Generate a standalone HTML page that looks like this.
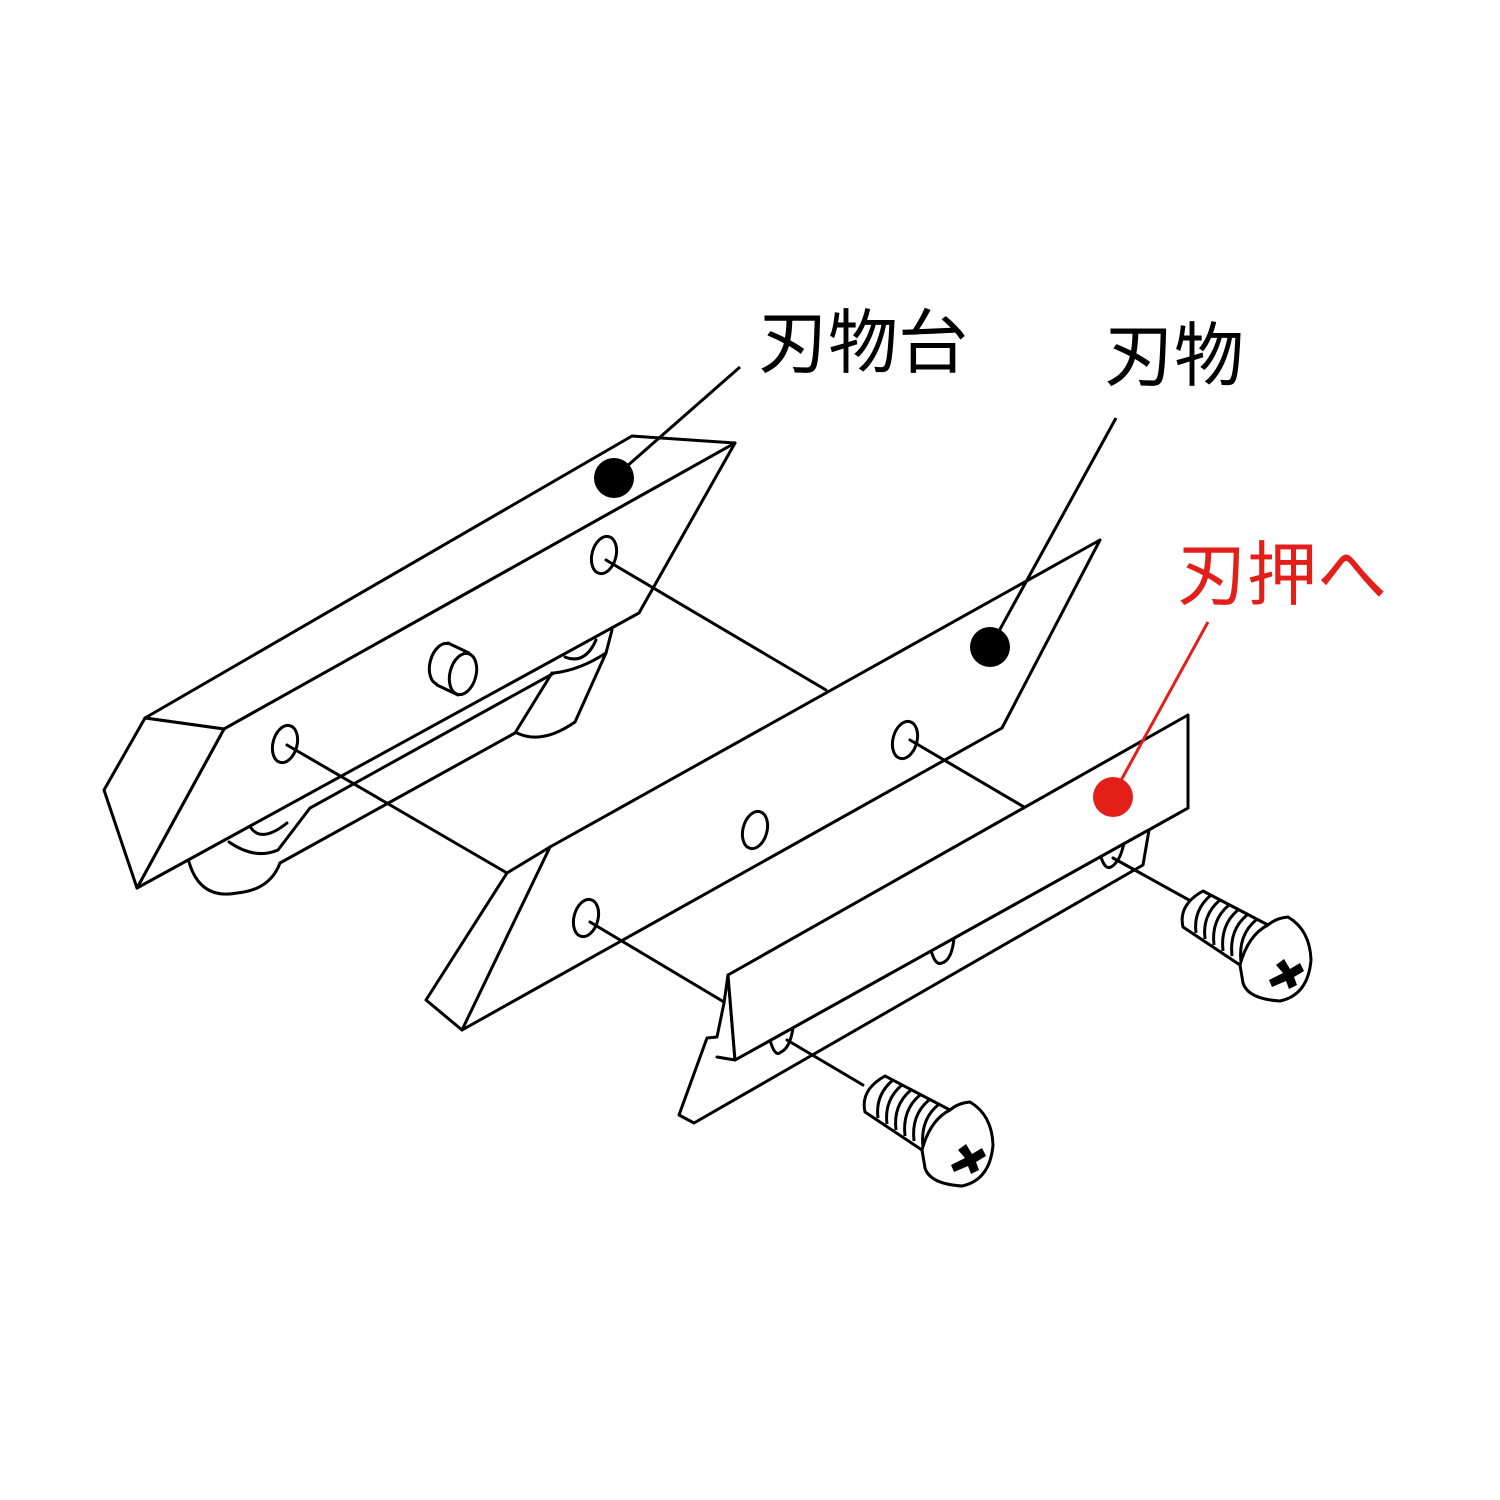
<!DOCTYPE html>
<html><head><meta charset="utf-8"><style>
html,body{margin:0;padding:0;background:#fff;}
svg{display:block;}
text{font-family:"Liberation Sans","Noto Sans CJK JP",sans-serif;font-size:70px;font-weight:400;}
</style></head><body>
<svg width="1500" height="1500" viewBox="0 0 1500 1500" xmlns="http://www.w3.org/2000/svg">
<rect width="1500" height="1500" fill="#fff"/>
<g fill="none" stroke="#000" stroke-width="3" stroke-linejoin="round" stroke-linecap="round">
<path d="M189,862 Q200,900 237,893 Q270,890 280,863" fill="#fff"/>
<path d="M251,828 Q262,843 287,823"/>
<path d="M229,842 Q255,860 278,850 L310,808 L554,673"/>
<path d="M280,863 L515,733 L552,673"/>
<path d="M517,733 Q542,745 575,722 L606,653 L612,630"/>
<path d="M565,657 Q585,665 596,640"/>
<path d="M554,673 Q580,670 606,653"/>
<path d="M145,718 L632,436 L735,443 L224,729 Z" fill="#fff"/>
<path d="M224,729 L735,443 L639,613 L137,888 Z" fill="#fff"/>
<path d="M145,718 L224,729 L137,888 L104,790 Z" fill="#fff"/>
<ellipse cx="604" cy="555" rx="12" ry="19" transform="rotate(15 604 555)"/>
<ellipse cx="285" cy="744" rx="12" ry="19" transform="rotate(15 285 744)"/>
<ellipse cx="443" cy="664" rx="13" ry="21" transform="rotate(15 443 664)" fill="#fff"/>
<path d="M449,643 L470,653 L458,695 L437,685 Z" fill="#fff" stroke="none"/>
<line x1="448" y1="643" x2="469" y2="653"/>
<line x1="437" y1="685" x2="458" y2="695"/>
<ellipse cx="463" cy="674" rx="13" ry="21" transform="rotate(15 463 674)" fill="#fff"/>
<line x1="606" y1="560" x2="826" y2="690"/>
<line x1="287" y1="745" x2="507" y2="873"/>
<path d="M507,873 L550,847 L1100,540 L1002,728 L462,1030 L426,1000 Z" fill="#fff"/>
<line x1="550" y1="847" x2="462" y2="1030"/>
<ellipse cx="905" cy="740" rx="12" ry="19" transform="rotate(15 905 740)"/>
<ellipse cx="755" cy="830" rx="12" ry="19" transform="rotate(15 755 830)"/>
<ellipse cx="586" cy="918" rx="12" ry="19" transform="rotate(15 586 918)"/>
<line x1="910" y1="740" x2="1024" y2="807"/>
<line x1="590" y1="922" x2="724" y2="1002"/>
<path d="M1188,808 L1149,830 L1143,865 L694,1123 L679,1115 L707,1038 L717,1037 L724,1003 L728,975 L735,1060 Z" fill="#fff"/>
<path d="M770,1037 L1124,843"/>
<path d="M770,1040 Q775,1058 781,1052 Q790,1048 793,1028"/>
<path d="M931,950 Q935,966 942,963 Q952,960 954,938"/>
<path d="M1101,857 Q1105,870 1111,867 Q1120,862 1124,843"/>
<path d="M728,975 L1188,715 L1188,808 L735,1060 Z" fill="#fff"/>
<line x1="717" y1="1057" x2="735" y2="1060"/>
<line x1="1113" y1="858" x2="1198" y2="905"/>
<line x1="787" y1="1040" x2="863" y2="1085"/>
</g>
<g id="screw" fill="#fff" stroke="#000" stroke-width="3" stroke-linejoin="round">
<path d="M885,1076 L950,1110 L922,1150 L865,1112 Q860,1090 885,1076 Z"/>
<g fill="none">
<path d="M893,1080 Q875,1095 878,1118"/>
<path d="M902,1085 Q884,1100 887,1124"/>
<path d="M911,1090 Q893,1105 896,1130"/>
<path d="M920,1095 Q902,1110 905,1136"/>
<path d="M929,1100 Q911,1115 914,1141"/>
<path d="M938,1105 Q920,1120 923,1147"/>
</g>
<path d="M950,1110 Q958,1103 970,1102 Q992,1115 993,1145 Q990,1180 962,1186 Q930,1184 925,1168 L922,1150 Q930,1120 950,1110 Z"/>
<path d="M958,1150 l8,-6 l6,10 l10,-6 l4,8 l-10,6 l3,8 l-8,4 l-3,-8 l-14,6 l-3,-7 l14,-7 z" fill="#000" stroke="none"/>
</g>
<use href="#screw" transform="translate(318,-185)"/>
<g fill="none" stroke="#000" stroke-width="3">
<line x1="740" y1="367" x2="618" y2="474"/>
<line x1="1116" y1="418" x2="993" y2="642"/>
</g>
<line x1="1208" y1="622" x2="1113" y2="795" stroke="#e31f1a" stroke-width="3"/>
<circle cx="614" cy="478" r="20" fill="#000"/>
<circle cx="990" cy="647" r="20" fill="#000"/>
<circle cx="1113" cy="797" r="20" fill="#e31f1a"/>
<text x="758" y="367" fill="#000">刃物台</text>
<text x="1104" y="380" fill="#000">刃物</text>
<text x="1177" y="599" fill="#e31f1a">刃押へ</text>
</svg>
</body></html>
